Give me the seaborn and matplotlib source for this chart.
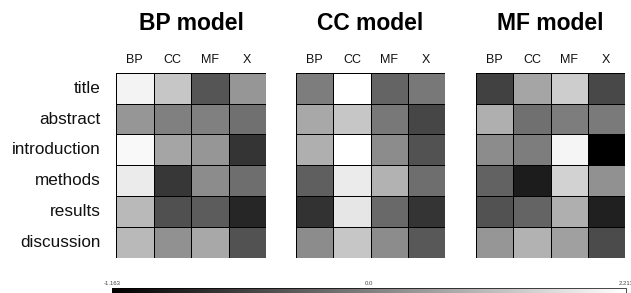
import matplotlib
matplotlib.use("Agg")
import matplotlib.pyplot as plt
import matplotlib.colors as mcolors
import seaborn as sns
import pandas as pd
import numpy as np

plt.rcParams['font.family'] = ['Liberation Sans', 'DejaVu Sans']

sections = ["title", "abstract", "introduction", "methods", "results", "discussion"]
features = ["BP", "CC", "MF", "X"]
models = ["BP model", "CC model", "MF model"]

bp_model = [
    [2.005, 1.224, -0.388, 0.391],
    [0.391, 0.010, 0.010, -0.141],
    [2.092, 0.651, 0.391, -0.689],
    [1.866, -0.661, 0.217, -0.160],
    [0.998, -0.433, -0.324, -0.816],
    [0.998, 0.304, 0.703, -0.415],
]
cc_model = [
    [-0.023, 2.213, -0.251, -0.068],
    [0.703, 1.224, -0.068, -0.524],
    [0.825, 2.213, 0.217, -0.415],
    [-0.297, 1.866, 0.877, -0.160],
    [-0.707, 1.779, -0.205, -0.689],
    [0.217, 1.224, 0.217, -0.360],
]
mf_model = [
    [-0.570, 0.651, 1.345, -0.506],
    [0.825, -0.141, -0.023, -0.050],
    [0.217, -0.023, 2.040, -1.163],
    [-0.269, -0.907, 1.432, 0.304],
    [-0.415, -0.251, 0.825, -0.871],
    [0.391, 0.877, 0.564, -0.479],
]
vmin, vmax = -1.163, 2.213
cbar_ticks = [-1.163, 0.0, 2.213]
cbar_labels = ["-1.163", "0.0", "2.213"]

W, H = 631, 293
fig = plt.figure(figsize=(W / 100, H / 100), dpi=100)
norm = mcolors.TwoSlopeNorm(vmin=vmin, vcenter=0.0, vmax=vmax)

panels = [(116, 266), (296, 445), (476, 625)]
top_px, bot_px = 72.7, 258
datasets = [bp_model, cc_model, mf_model]

for i, ((x0, x1), data, name) in enumerate(zip(panels, datasets, models)):
    ax = fig.add_axes([x0 / W, 1 - bot_px / H, (x1 - x0) / W, (bot_px - top_px) / H])
    df = pd.DataFrame(data, index=sections, columns=features)
    sns.heatmap(df, ax=ax, cmap="gray", norm=norm, cbar=False,
                linewidths=0.6, linecolor="black", square=False)
    ax.xaxis.tick_top()
    ax.tick_params(axis='x', length=0, pad=5, labelsize=9, labelcolor="#111111")
    ax.tick_params(axis='y', length=0, pad=11, labelsize=12.3, labelcolor="#111111")
    ax.set_xticklabels(features, rotation=0)
    if i == 0:
        ax.set_yticklabels(sections, rotation=0)
    else:
        ax.set_yticks([])
    ax.set_xlabel("")
    ax.set_ylabel("")
    fig.text((x0 + x1) / 2 / W, 1 - 30 / H, name, ha="center", va="baseline",
             fontsize=16.5, fontweight="bold")

cax = fig.add_axes([112 / W, 0.0, (626 - 112) / W, 0.016])
sm = plt.cm.ScalarMappable(norm=norm, cmap="gray")
cb = fig.colorbar(sm, cax=cax, orientation="horizontal")
cb.set_ticks(cbar_ticks)
cb.set_ticklabels(cbar_labels)
cax.xaxis.set_ticks_position("top")
cax.tick_params(axis='x', length=0, pad=1.5, labelsize=4.3, labelcolor="#444444")
cb.outline.set_linewidth(0.5)

fig.savefig("out.png", dpi=100)
